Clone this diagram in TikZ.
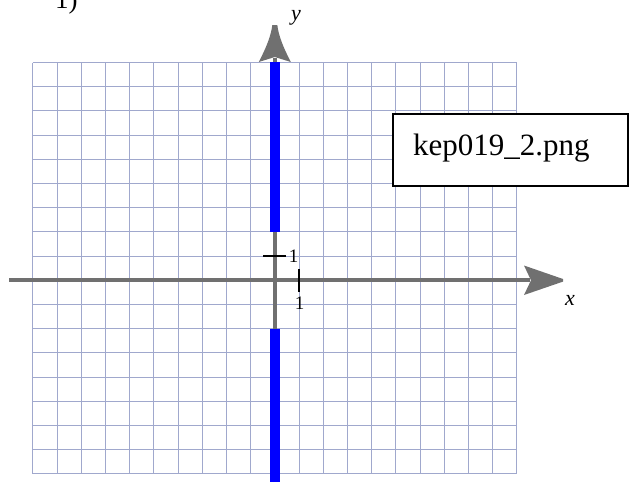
\documentclass[tikz,border=0pt]{standalone}
\usepackage{fontspec}
\setmainfont{Liberation Serif}
\begin{document}
\begin{tikzpicture}[x=1pt,y=-1pt,
  gridline/.style={draw={rgb,255:red,160;green,168;blue,205},line width=1pt},
  axisline/.style={draw={rgb,255:red,112;green,112;blue,112},line width=4pt},
  axishead/.style={fill={rgb,255:red,112;green,112;blue,112}},
  graphline/.style={draw={rgb,255:red,0;green,0;blue,255},line width=10.5pt},
  tickline/.style={draw=black,line width=2pt},
  lbl/.style={inner sep=0pt,font=\fontsize{22}{24}\selectfont\itshape},
  ticklbl/.style={inner sep=0pt,font=\fontsize{19}{21}\selectfont}]
\useasboundingbox (0,0) rectangle (629,482);
% grid
\foreach \i in {0,...,20} \draw[gridline] ({32.8+24.2*\i},62.5) -- ({32.8+24.2*\i},{62.5+24.2*17});
\foreach \j in {0,...,17} \draw[gridline] (32.8,{62.5+24.2*\j}) -- (516.8,{62.5+24.2*\j});
% axes
\draw[axisline] (9,280.3) -- (530,280.3);
\fill[axishead] (524,265.5) -- (563,279) -- (563,281.6) -- (524,295) -- (531,280.3) -- cycle;
\draw[axisline] (274.8,482) -- (274.8,58);
\fill[axishead] (258.8,62) .. controls (266,48) and (271,36) .. (272.3,25) -- (277.3,25) .. controls (278.6,36) and (283.6,48) .. (290.8,62) -- (274.8,57) -- cycle;
% graph
\draw[graphline] (274.8,62) -- (274.8,231.9);
\draw[graphline] (274.8,328.7) -- (274.8,482);
% ticks
\draw[tickline] (263,256.1) -- (285.5,256.1);
\draw[tickline] (299,269) -- (299,292);
\node[ticklbl] (t1y) at (293.5,256.5) {1};
\node[ticklbl] (t1x) at (299.5,303) {1};
\node[lbl] (ylab) at (296,18) {y};
\node[lbl] (xlab) at (570,300) {x};
% label box
\draw[fill=white,line width=2pt] (393,114) rectangle (628,186);
\node[anchor=base west,inner sep=0pt,font=\fontsize{31}{34}\selectfont] (fname) at (413,155) {kep019\_2.png};
\node[anchor=base west,inner sep=0pt,font=\fontsize{27}{30}\selectfont] (num) at (55,8) {1)};
\end{tikzpicture}
\end{document}
